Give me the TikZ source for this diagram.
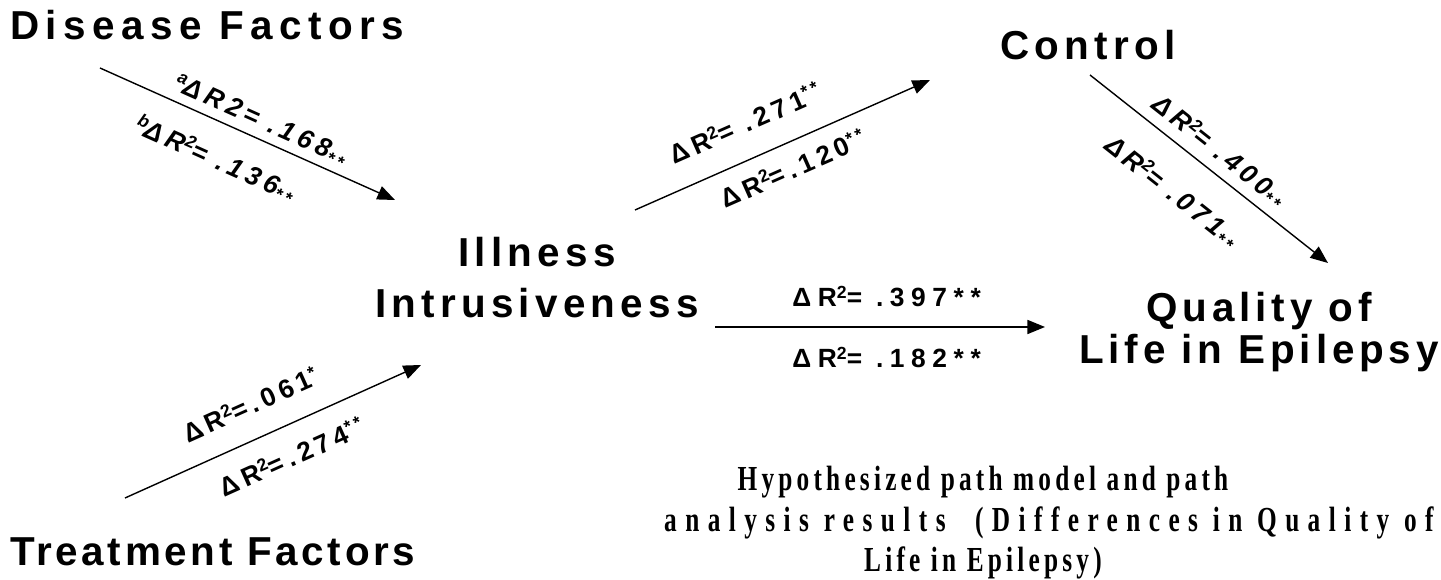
\documentclass[tikz,border=0pt]{standalone}
\usepackage{fontspec}
\setmainfont{Liberation Sans}
\newfontfamily\capfont{Liberation Serif}[FakeStretch=0.72]
\usetikzlibrary{arrows.meta}

\tikzset{
  factor/.style={font=\fontsize{23}{29}\selectfont\bfseries\addfontfeature{LetterSpace=13},
    inner sep=0pt, align=center},
  arr/.style={-{Triangle[length=10pt,width=8pt]}, line width=0.8pt},
  coef/.style={font=\fontsize{15}{17}\selectfont\bfseries\addfontfeature{LetterSpace=18},
    inner sep=0pt, sloped},
  coefit/.style={coef, font=\fontsize{15}{17}\selectfont\bfseries\itshape\addfontfeature{LetterSpace=18}},
  capbox/.style={font=\fontsize{20}{23}\selectfont\capfont\bfseries\addfontfeature{LetterSpace=12},
    inner sep=0pt, align=center},
}
\newcommand{\hi}[1]{\raisebox{0.6ex}{\fontsize{10}{10}\selectfont #1}}
\newcommand{\lowstars}[1]{\raisebox{-0.3ex}{\fontsize{10}{10}\selectfont #1}}

\begin{document}
\begin{tikzpicture}[x=0.02cm, y=-0.02cm]
\useasboundingbox (0,0) rectangle (1441,580);

% Variables
\node[factor, anchor=west, font=\fontsize{23}{29}\selectfont\bfseries\addfontfeature{LetterSpace=16}] (disease) at (10,25) {Disease Factors};
\node[factor, anchor=west, font=\fontsize{23}{29}\selectfont\bfseries\addfontfeature{LetterSpace=9}] (treatment) at (10,552) {Treatment Factors};
\node[factor] (illness) at (537,278) {Illness\\Intrusiveness};
\node[factor] (control) at (1088,45) {Control};
\node[factor, font=\fontsize{23}{24}\selectfont\bfseries\addfontfeature{LetterSpace=12}] (qole) at (1259,332) {Quality of\\Life in Epilepsy};

% Arrow end points
\coordinate (disease-out) at (100,68);
\coordinate (illness-in1) at (395,200);
\coordinate (treatment-out) at (125,498);
\coordinate (illness-in2) at (421,365);
\coordinate (illness-out1) at (635,210);
\coordinate (control-in) at (930,80);
\coordinate (illness-out2) at (715,327);
\coordinate (qole-in1) at (1045,327);
\coordinate (control-out) at (1090,75);
\coordinate (qole-in2) at (1328,263);

% Paths
\draw[arr] (disease-out) -- (illness-in1)
  node[coefit, pos=0.52, above=3pt] (c1a) {\hi{a}ΔR2= .168\lowstars{**}}
  node[coefit, pos=0.44, below=13pt] (c1b) {\hi{b}ΔR\hi{2}= .136\lowstars{**}};
\draw[arr] (treatment-out) -- (illness-in2)
  node[coef, pos=0.47, above=13pt] (c2a) {ΔR\hi{2}=.061\hi{*}}
  node[coef, pos=0.52, below=11pt] (c2b) {ΔR\hi{2}=.274\hi{**}};
\draw[arr] (illness-out1) -- (control-in)
  node[coef, pos=0.42, above=14pt] (c3a) {ΔR\hi{2}= .271\hi{**}}
  node[coef, pos=0.5, below=8pt] (c3b) {ΔR\hi{2}=.120\hi{**}};
\draw[arr] (illness-out2) -- (qole-in1)
  node[coef, pos=0.52, above=11pt, font=\fontsize{15}{17}\selectfont\bfseries\addfontfeature{LetterSpace=25}] (c4a) {ΔR\hi{2}= .397**}
  node[coef, pos=0.52, below=11pt, font=\fontsize{15}{17}\selectfont\bfseries\addfontfeature{LetterSpace=25}] (c4b) {ΔR\hi{2}= .182**};
\draw[arr] (control-out) -- (qole-in2)
  node[coefit, pos=0.49, above=4pt] (c5a) {ΔR\hi{2}= .400\lowstars{**}}
  node[coefit, pos=0.45, below=16pt] (c5b) {ΔR\hi{2}= .071\lowstars{**}};

% Caption
\node[capbox] (caption) at (983,523) {Hypothesized path model and path\\\hspace*{75pt}{\addfontfeature{LetterSpace=24}analysis results ~(Differences in Quality of}\\Life in Epilepsy)};
\end{tikzpicture}
\end{document}
